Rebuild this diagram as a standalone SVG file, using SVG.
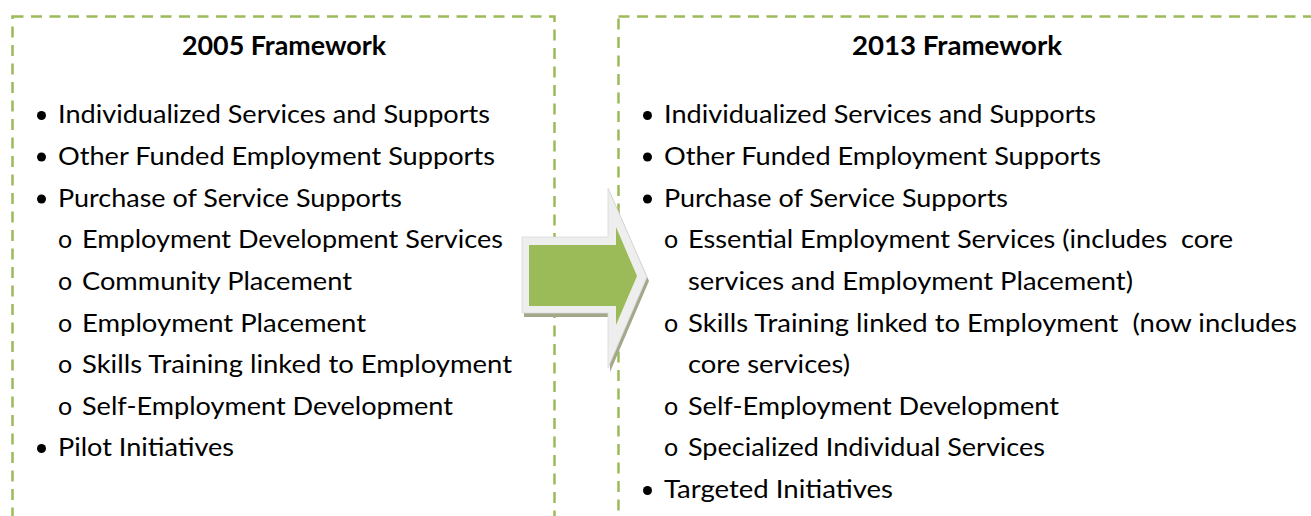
<svg xmlns="http://www.w3.org/2000/svg" width="1311" height="516" viewBox="0 0 1311 516">
<style>
.frame{fill:none;stroke:#9BBB59;stroke-width:2.5;stroke-dasharray:11 7.5}
.t{font-family:Lato,"Liberation Sans",sans-serif;font-size:25px;fill:#000;white-space:pre}
.h{font-family:Lato,"Liberation Sans",sans-serif;font-size:26px;font-weight:bold;fill:#000;text-anchor:middle}
.b{fill:#000}
</style>
<rect width="1311" height="516" fill="#fff"/>
<g id="box2005">
<rect class="frame" x="12.5" y="16.5" width="542" height="560"/>
<text class="h" x="284" y="55" textLength="204" lengthAdjust="spacingAndGlyphs">2005 Framework</text>
<circle class="b" cx="41.5" cy="115.5" r="4.5"/>
<text class="t" x="58" y="123" textLength="432" lengthAdjust="spacingAndGlyphs">Individualized Services and Supports</text>
<circle class="b" cx="41.5" cy="157" r="4.5"/>
<text class="t" x="58" y="165" textLength="437" lengthAdjust="spacingAndGlyphs">Other Funded Employment Supports</text>
<circle class="b" cx="41.5" cy="199" r="4.5"/>
<text class="t" x="58" y="207" textLength="344" lengthAdjust="spacingAndGlyphs">Purchase of Service Supports</text>
<text class="t" x="58" y="248">o</text>
<text class="t" x="82" y="248" textLength="421" lengthAdjust="spacingAndGlyphs">Employment Development Services</text>
<text class="t" x="58" y="290">o</text>
<text class="t" x="82" y="290" textLength="270" lengthAdjust="spacingAndGlyphs">Community Placement</text>
<text class="t" x="58" y="332">o</text>
<text class="t" x="82" y="332" textLength="284" lengthAdjust="spacingAndGlyphs">Employment Placement</text>
<text class="t" x="58" y="373">o</text>
<text class="t" x="82" y="373" textLength="430" lengthAdjust="spacingAndGlyphs">Skills Training linked to Employment</text>
<text class="t" x="58" y="415">o</text>
<text class="t" x="82" y="415" textLength="371" lengthAdjust="spacingAndGlyphs">Self-Employment Development</text>
<circle class="b" cx="41.5" cy="448.5" r="4.5"/>
<text class="t" x="58" y="456" textLength="176" lengthAdjust="spacingAndGlyphs">Pilot Initiatives</text>
</g>
<g id="box2013">
<rect class="frame" x="618.5" y="16.5" width="760" height="560"/>
<text class="h" x="957" y="55" textLength="210" lengthAdjust="spacingAndGlyphs">2013 Framework</text>
<circle class="b" cx="647.5" cy="115.5" r="4.5"/>
<text class="t" x="664" y="123" textLength="432" lengthAdjust="spacingAndGlyphs">Individualized Services and Supports</text>
<circle class="b" cx="647.5" cy="157" r="4.5"/>
<text class="t" x="664" y="165" textLength="437" lengthAdjust="spacingAndGlyphs">Other Funded Employment Supports</text>
<circle class="b" cx="647.5" cy="199" r="4.5"/>
<text class="t" x="664" y="207" textLength="344" lengthAdjust="spacingAndGlyphs">Purchase of Service Supports</text>
<text class="t" x="664" y="248">o</text>
<text class="t" x="688" y="248" textLength="545" lengthAdjust="spacingAndGlyphs">Essential Employment Services (includes  core</text>
<text class="t" x="688" y="290" textLength="445" lengthAdjust="spacingAndGlyphs">services and Employment Placement)</text>
<text class="t" x="664" y="332">o</text>
<text class="t" x="688" y="332" textLength="609" lengthAdjust="spacingAndGlyphs">Skills Training linked to Employment  (now includes</text>
<text class="t" x="688" y="373" textLength="162" lengthAdjust="spacingAndGlyphs">core services)</text>
<text class="t" x="664" y="415">o</text>
<text class="t" x="688" y="415" textLength="371" lengthAdjust="spacingAndGlyphs">Self-Employment Development</text>
<text class="t" x="664" y="456">o</text>
<text class="t" x="688" y="456" textLength="357" lengthAdjust="spacingAndGlyphs">Specialized Individual Services</text>
<circle class="b" cx="647.5" cy="490.5" r="4.5"/>
<text class="t" x="664" y="498" textLength="229" lengthAdjust="spacingAndGlyphs">Targeted Initiatives</text>
</g>
<g id="connectors">
<path d="M524,241 L610,241 L610,192 L649,281 L610,372 L610,317 L524,317 Z" fill="#A4A88A"/>
<path d="M522,237 L608,237 L608,188 L647,277 L608,368 L608,313 L522,313 Z" fill="#EEEEEE" stroke="#D8D8D8" stroke-width="0.8"/>
<path d="M529,245 L616,245 L616,227 L637,276 L616,325 L616,306 L529,306 Z" fill="#9BBB59"/>
</g>
</svg>
